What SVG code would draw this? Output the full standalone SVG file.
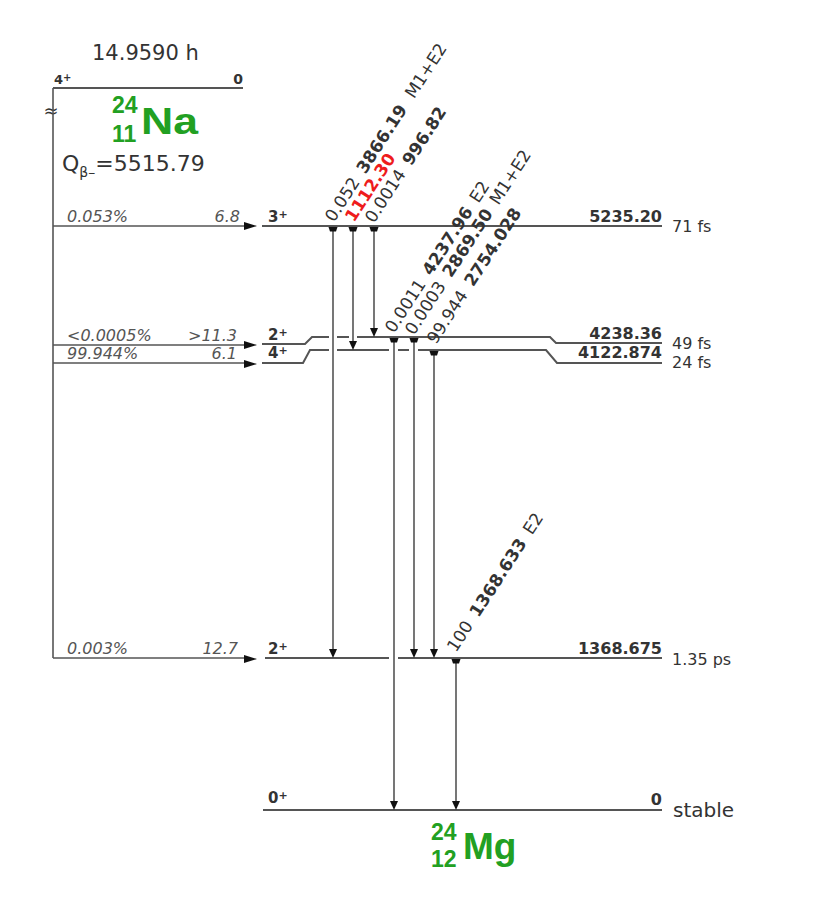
<svg xmlns="http://www.w3.org/2000/svg" xmlns:xlink="http://www.w3.org/1999/xlink" width="831" height="902" viewBox="0 0 831 902">
<defs>
<style>
text{font-family:"DejaVu Sans","Liberation Sans",sans-serif;fill:#333}
.lvl{fill:none;stroke:#555;stroke-width:2}
.gam{fill:none;stroke:#555;stroke-width:1.6}
.beta{fill:none;stroke:#555;stroke-width:1.6}
.bt{font-size:16px;font-style:italic;fill:#555}
.sp{font-size:15px;font-weight:bold}
.sp tspan{font-size:11px}
.el{font-size:16px;font-weight:bold;text-anchor:end}
.hl{font-size:16px}
.gl{font-size:17px}
.gl .e{font-weight:bold}
.big{font-size:21px}
.iso{font-family:"Liberation Sans",Arial,sans-serif;font-weight:bold;fill:#22a022}
</style>
<path id="tip" d="M-4,-9 L4,-9 L0,0 Z" fill="#111"/>
<path id="st" d="M-4.5,0 L4.5,0 L3,4.5 L-3,4.5 Z" fill="#111"/>
<path id="btip" d="M-13,-4 L0,0 L-13,4 Z" fill="#111"/>
</defs>

<g id="parent-Na24">
<path class="lvl" d="M53,88 L243,88" stroke-width="2.5"/>
<text x="54" y="84" style="font-size:13px;font-weight:bold">4<tspan dy="-3" font-size="10">+</tspan></text>
<text x="243" y="84" style="font-size:14px;font-weight:bold;text-anchor:end">0</text>
<text class="big" x="92" y="60">14.9590 h</text>
<text x="51" y="117" style="font-size:18px;text-anchor:middle">≈</text>
<text class="iso" x="112" y="113" style="font-size:23px">24</text>
<text class="iso" x="112" y="142" style="font-size:23px">11</text>
<text class="iso" x="141" y="134" style="font-size:37px" textLength="57" lengthAdjust="spacingAndGlyphs">Na</text>
<text x="62" y="171" style="font-size:22px">Q<tspan font-size="14px" dy="6">β–</tspan><tspan dy="-6">=5515.79</tspan></text>
</g>

<g id="daughter-Mg24">
<text class="iso" x="431" y="840" style="font-size:23px">24</text>
<text class="iso" x="431" y="867" style="font-size:23px">12</text>
<text class="iso" x="463" y="859" style="font-size:37px">Mg</text>
</g>

<g id="beta-feeds">
<path class="beta" d="M53,88 L53,658"/>
<path class="beta" d="M53,226 L245,226 M53,345 L245,345 M53,363 L245,363 M53,658 L245,658"/>
<use xlink:href="#btip" x="257" y="226"/>
<use xlink:href="#btip" x="257" y="345"/>
<use xlink:href="#btip" x="257" y="364"/>
<use xlink:href="#btip" x="257" y="659"/>
<text class="bt" x="67" y="222">0.053%</text>
<text class="bt" x="240" y="222" text-anchor="end">6.8</text>
<text class="bt" x="67" y="341">&lt;0.0005%</text>
<text class="bt" x="237" y="341" text-anchor="end">&gt;11.3</text>
<text class="bt" x="67" y="359">99.944%</text>
<text class="bt" x="237" y="359" text-anchor="end">6.1</text>
<text class="bt" x="67" y="654">0.003%</text>
<text class="bt" x="238" y="654" text-anchor="end">12.7</text>
</g>

<g id="level-5235">
<path class="lvl" d="M262,226 L662,226"/>
<text class="sp" x="268" y="222">3<tspan dy="-4">+</tspan></text>
<text class="el" x="662" y="222">5235.20</text>
<text class="hl" x="672" y="232">71 fs</text>
</g>

<g id="level-4238">
<path class="lvl" d="M262,344 L305,344 L312,337 L329,337 M337,337 L349,337 M357,337 L550,337 L556,343 L662,343"/>
<text class="sp" x="268" y="340">2<tspan dy="-4">+</tspan></text>
<text class="el" x="662" y="339">4238.36</text>
<text class="hl" x="672" y="349">49 fs</text>
</g>

<g id="level-4122">
<path class="lvl" d="M262,363 L303,363 L310,350 L329,350 M337,350 L389,350 M398,350 L409,350 M418,350 L546,350 L557,363 L662,363"/>
<text class="sp" x="268" y="358">4<tspan dy="-4">+</tspan></text>
<text class="el" x="662" y="358">4122.874</text>
<text class="hl" x="672" y="368">24 fs</text>
</g>

<g id="level-1368">
<path class="lvl" d="M265,658 L389,658 M398,658 L662,658"/>
<text class="sp" x="268" y="654">2<tspan dy="-4">+</tspan></text>
<text class="el" x="662" y="654">1368.675</text>
<text class="hl" x="672" y="665">1.35 ps</text>
</g>

<g id="level-0">
<path class="lvl" d="M263,810 L662,810" stroke="#333" stroke-width="3"/>
<text class="sp" x="268" y="803">0<tspan dy="-4">+</tspan></text>
<text class="el" x="662" y="805">0</text>
<text x="673" y="817" style="font-size:20px">stable</text>
</g>

<g id="gamma-transitions">
<path class="gam" d="M333,226 L333,652 M353,226 L353,344 M374,226 L374,331 M394,337 L394,804 M414,337 L414,652 M434,350 L434,652 M456,658 L456,804"/>
<use xlink:href="#st" x="333" y="227"/>
<use xlink:href="#st" x="353" y="227"/>
<use xlink:href="#st" x="374" y="227"/>
<use xlink:href="#st" x="394" y="338"/>
<use xlink:href="#st" x="414" y="338"/>
<use xlink:href="#st" x="434" y="351"/>
<use xlink:href="#st" x="456" y="659"/>
<use xlink:href="#tip" x="333" y="658"/>
<use xlink:href="#tip" x="353" y="350"/>
<use xlink:href="#tip" x="374" y="337"/>
<use xlink:href="#tip" x="394" y="810"/>
<use xlink:href="#tip" x="414" y="658"/>
<use xlink:href="#tip" x="434" y="658"/>
<use xlink:href="#tip" x="456" y="810"/>
<text class="gl" transform="translate(334,223) rotate(-57)">0.052<tspan class="e" dx="9">3866.19</tspan><tspan dx="12">M1+E2</tspan></text>
<text class="gl" transform="translate(354,223) rotate(-57)"><tspan class="e" fill="#ee1c1c">1112.30</tspan></text>
<text class="gl" transform="translate(374,224) rotate(-57)">0.0014<tspan class="e" dx="9">996.82</tspan></text>
<text class="gl" transform="translate(394,334) rotate(-57)">0.0011<tspan class="e" dx="9">4237.96</tspan><tspan dx="9">E2</tspan></text>
<text class="gl" transform="translate(414,336) rotate(-57)">0.0003<tspan class="e" dx="9">2869.50</tspan><tspan dx="9">M1+E2</tspan></text>
<text class="gl" transform="translate(436,345) rotate(-57)">99.944<tspan class="e" dx="9">2754.028</tspan></text>
<text class="gl" transform="translate(456,653) rotate(-57)">100<tspan class="e" dx="9">1368.633</tspan><tspan dx="9">E2</tspan></text>
</g>
</svg>
